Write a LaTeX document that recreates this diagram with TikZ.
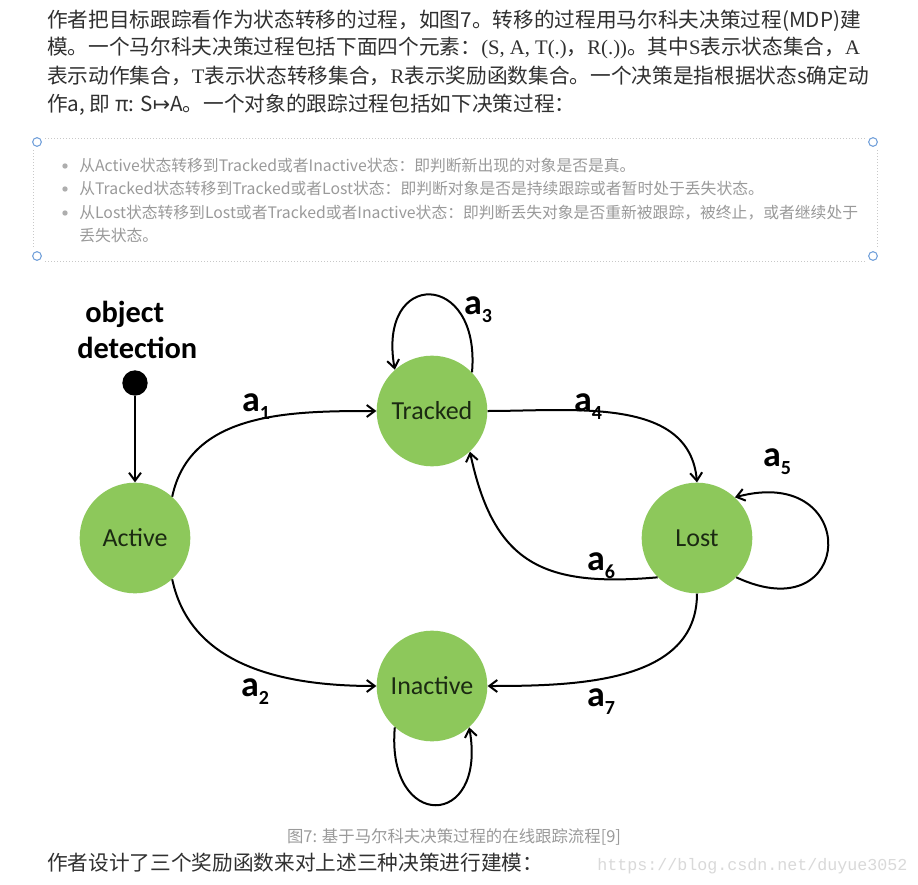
\documentclass[tikz,border=0pt]{standalone}
\usepackage{fontspec}
\setmainfont{Noto Sans CJK SC}
\newfontfamily\tnr{Liberation Serif}
\newfontfamily\carlito{Carlito}
\newfontfamily\mono{Liberation Mono}
\newfontfamily\dejavu{DejaVu Sans}
\usepackage{xcolor}
\usepackage{tikz}
\usetikzlibrary{arrows.meta,positioning}
\definecolor{txt}{HTML}{303030}
\definecolor{quote}{HTML}{9A9A9A}
\definecolor{stategreen}{HTML}{8DC85B}
\definecolor{statetxt}{HTML}{1B2A12}
\definecolor{handleblue}{HTML}{6A9BD8}
\definecolor{dotgray}{HTML}{C8C8C8}
\definecolor{wmgray}{HTML}{D9D9D9}
\newcommand\fsz[1]{\fontsize{#1}{#1}\selectfont}
\newcommand\albl[1]{a\raisebox{-6pt}{\fsz{15}#1}}

\begin{document}
\begin{tikzpicture}[x=0.75pt,y=0.75pt,
  state/.style={circle,fill=stategreen,minimum size=83pt,inner sep=0pt,font=\carlito\fsz{19.5},text=statetxt},
  arr/.style={line width=1.5pt,-{Straight Barb[length=6pt,width=9pt]}},
  lbl/.style={font=\carlito\bfseries\fsz{27},inner sep=0pt},
  dotline/.style={dotgray,line width=0.75pt,dash pattern=on 0.75pt off 1.5pt},
  handle/.style={draw=handleblue,line width=0.75pt,circle,inner sep=0pt,minimum size=6.5pt},
  para/.style={anchor=base west,inner sep=0pt,font=\fsz{15.5},text=txt},
  bulletline/.style={anchor=base west,inner sep=0pt,font=\fsz{11.85},text=quote}]
  % 1 unit = 1px of the 918x885 page, y runs downwards as negative
  \fill[white] (0,0) rectangle (918,-885);
  \useasboundingbox (0,0) rectangle (918,-885);

  % paragraph above the quote box
  \node[para] (p1) at (47,-27) {作者把目标跟踪看作为状态转移的过程，如图7。转移的过程用马尔科夫决策过程(MDP)建};
  \node[para] (p2) at (47,-55) {模。一个马尔科夫决策过程包括下面四个元素：{\tnr(S, A, T(.)}，{\tnr R(.))}。其中{\tnr S}表示状态集合，{\tnr A}};
  \node[para] (p3) at (47,-83) {表示动作集合，{\tnr T}表示状态转移集合，{\tnr R}表示奖励函数集合。一个决策是指根据状态s确定动};
  \node[para] (p4) at (47,-111) {作a, 即 π: S{\dejavu ↦}A。一个对象的跟踪过程包括如下决策过程：};

  % quote box with its four handles
  \draw[dotline] (45,-138) -- (865,-138);
  \draw[dotline] (45,-261) -- (865,-261);
  \draw[dotline] (33,-150) -- (33,-248);
  \draw[dotline] (877,-150) -- (877,-248);
  \node[handle] (h1) at (37,-142) {};
  \node[handle] (h2) at (873,-142) {};
  \node[handle] (h3) at (37,-256) {};
  \node[handle] (h4) at (873,-256) {};
  \foreach \y in {166,189,213} \fill[quote!80] (65,-\y) circle (2pt);
  \node[bulletline] (b1) at (79,-171) {从Active状态转移到Tracked或者Inactive状态：即判断新出现的对象是否是真。};
  \node[bulletline] (b2) at (79,-194) {从Tracked状态转移到Tracked或者Lost状态：即判断对象是否是持续跟踪或者暂时处于丢失状态。};
  \node[bulletline] (b3) at (79,-218) {从Lost状态转移到Lost或者Tracked或者Inactive状态：即判断丢失对象是否重新被跟踪，被终止，或者继续处于};
  \node[bulletline] (b4) at (79,-241) {丢失状态。};

  % the MDP diagram
  \node[font=\carlito\bfseries\fontsize{22.8}{27}\selectfont,align=left,anchor=west,inner sep=0pt] (odet) at (77,-330) {\hspace*{6pt}object\\detection};
  \node[circle,fill=black,minimum size=19pt,inner sep=0pt] (det) at (135,-383) {};
  \node[state] (act) at (135,-538) {Active};
  \node[state] (trk) at (432,-411) {Tracked};
  \node[state] (lost) at (697,-538) {Lost};
  \node[state] (inact) at (432,-686) {Inactive};

  \draw[arr] (det) -- (act);
  \draw[arr] (act.48) to[out=78,in=180] (trk.west);
  \draw[arr] (act.-48) to[out=-78,in=180] (inact.west);
  \draw[arr] (trk.44) to[out=85,in=100,looseness=3.4] (trk.132);
  \draw[arr] (trk.east) to[out=0,in=95] (lost.north);
  \draw[arr] (lost.-45) to[out=-25,in=15,looseness=4.2] (lost.47);
  \draw[arr] (lost.225) to[out=185,in=-78,looseness=1.3] (trk.-47);
  \draw[arr] (lost.south) to[out=-90,in=0] (inact.east);
  \draw[arr] (inact.-132) to[out=-95,in=-80,looseness=3.6] (inact.-48);

  \node[lbl] (l1) at (256,-407) {\albl1};
  \node[lbl] (l2) at (255,-692) {\albl2};
  \node[lbl] (l3) at (478,-310) {\albl3};
  \node[lbl] (l4) at (588,-407) {\albl4};
  \node[lbl] (l5) at (777,-462) {\albl5};
  \node[lbl] (l6) at (601,-566) {\albl6};
  \node[lbl] (l7) at (601,-702) {\albl7};

  % caption, closing line, watermark
  \node[anchor=base,inner sep=0pt,font=\fsz{12.3},text=quote] (cap) at (454,-842) {图7: 基于马尔科夫决策过程的在线跟踪流程[9]};
  \node[para] (p5) at (47,-870) {作者设计了三个奖励函数来对上述三种决策进行建模：};
  \node[anchor=base west,inner sep=0pt,font=\mono\fsz{12.5},text=wmgray] (wm) at (597,-870) {https://blog.csdn.net/duyue3052};
\end{tikzpicture}
\end{document}
